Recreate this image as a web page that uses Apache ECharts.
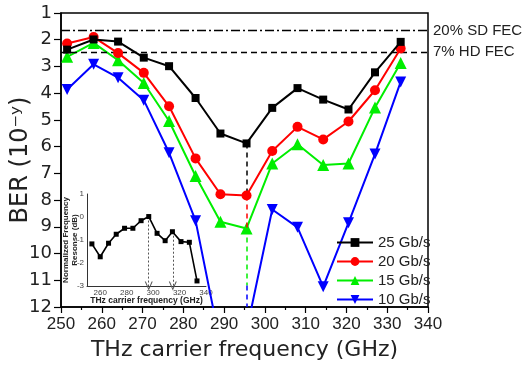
<!DOCTYPE html>
<html>
<head>
<meta charset="utf-8">
<script src="https://cdn.jsdelivr.net/npm/echarts@6/dist/echarts.min.js"></script>
<style>
html, body { margin: 0; padding: 0; background: #fff; }
#main { width: 523px; height: 372px; }
</style>
</head>
<body>
<div id="main"></div>
<script>
// carrier frequencies (GHz) and BER exponents
var freq = [251.5, 258, 264, 270.3, 276.5, 283, 289.1, 295.5, 301.8, 308, 314.3, 320.5, 327, 333.3];
var ber25 = [2.37, 1.99, 2.07, 2.67, 2.99, 4.18, 5.51, 5.88, 4.55, 3.81, 4.24, 4.61, 3.22, 2.08];
var ber20 = [2.14, 1.90, 2.50, 3.24, 4.49, 6.44, 7.78, 7.83, 6.16, 5.26, 5.73, 5.06, 3.89, 2.33];
var ber15 = [2.64, 2.12, 2.77, 3.62, 5.04, 7.10, 8.81, 9.06, 6.63, 5.91, 6.69, 6.63, 4.54, 2.87];
var ber10 = [3.86, 2.92, 3.42, 4.26, 6.23, 8.77, 13.4, 12.9, 8.35, 9.02, 11.24, 8.85, 6.28, 3.58];
var seriesNames = ['25 Gb/s', '20 Gb/s', '15 Gb/s', '10 Gb/s'];

// FEC thresholds
var sdFec = 1.65;
var hdFec = 2.45;

// vertical marker at 295.5 GHz, split by colour
var markFreq = 295.5;
var markStops = [5.88, 7.83, 9.06, 11.2, 12];

// inset: normalized frequency response
var insetFreq = [253.7, 260, 266.3, 272.1, 278.4, 284.7, 290.9, 296.7, 303, 309.1, 314.6, 321.1, 327.4, 333.2];
var insetResp = [-1.17, -1.73, -1.14, -0.75, -0.49, -0.49, -0.16, 0.02, -0.71, -1.03, -0.64, -1.07, -1.10, -2.78];
var arrowFreq = [296.7, 314.9];
var arrowTop = [0.02, -0.64];

function zip(xs, ys) {
    var out = [];
    for (var i = 0; i < xs.length; i++) out.push([xs[i], ys[i]]);
    return out;
}

var myChart = echarts.init(document.getElementById('main'));
var font = 'Arial, "Liberation Sans", sans-serif';
var wide = '"DejaVu Sans", sans-serif';

var colors = ['#000000', '#ff0000', '#00ee00', '#0000ff'];
var symbols = ['rect', 'circle', 'triangle', 'path://M0,0L10,0L5,9Z'];
var sizes = [8, 10, 12, 11];
var datas = [ber25, ber20, ber15, ber10];

var series = [];
for (var s = 0; s < 4; s++) {
    var ml = {
        silent: true,
        symbol: 'none',
        label: {show: false},
        lineStyle: {color: colors[s], type: [5, 4], width: 1.5},
        data: [[{coord: [markFreq, markStops[s]]}, {coord: [markFreq, markStops[s + 1]]}]]
    };
    if (s == 0) {
        // FEC limits
        ml.data.push([{coord: [250, sdFec]}, {coord: [340, sdFec], label: {show: true, position: 'end', formatter: '20% SD FEC', color: '#222', fontSize: 15, fontFamily: font}, lineStyle: {type: [9, 3, 2, 3], color: '#000', width: 1.3}}]);
        ml.data.push([{coord: [250, hdFec]}, {coord: [340, hdFec], label: {show: true, position: 'end', formatter: '7% HD FEC', color: '#222', fontSize: 15, fontFamily: font}, lineStyle: {type: [6, 4], color: '#000', width: 1.3}}]);
    }
    series.push({
        name: seriesNames[s],
        type: 'line',
        xAxisIndex: 0,
        yAxisIndex: 0,
        data: zip(freq, datas[s]),
        symbol: symbols[s],
        symbolSize: sizes[s],
        color: colors[s],
        lineStyle: {width: 2, color: colors[s]},
        itemStyle: {color: colors[s]},
        clip: true,
        z: 4 - s + 2,
        markLine: ml
    });
}

var arrowLines = [];
for (var a = 0; a < arrowFreq.length; a++) {
    arrowLines.push([{coord: [arrowFreq[a], arrowTop[a]]}, {coord: [arrowFreq[a], -3]}]);
}

series.push({
    name: 'inset',
    type: 'line',
    xAxisIndex: 1,
    yAxisIndex: 1,
    data: zip(insetFreq, insetResp),
    symbol: 'rect',
    symbolSize: 5,
    lineStyle: {width: 1.6, color: '#000'},
    itemStyle: {color: '#000'},
    z: 10,
    markLine: {
        silent: true,
        symbol: ['none', 'path://M5,0L10,10L8.6,10L5,2.6L1.4,10L0,10Z'],
        symbolSize: [8, 9],
        label: {show: false},
        lineStyle: {color: '#555', type: [2, 2], width: 1},
        data: arrowLines
    }
});

option = {
    animation: false,
    backgroundColor: '#fff',
    textStyle: {fontFamily: font},
    legend: {
        data: seriesNames,
        left: 331,
        top: 230,
        orient: 'vertical',
        itemWidth: 36,
        itemHeight: 11,
        itemGap: 4,
        textStyle: {fontSize: 15, color: '#222', fontFamily: font}
    },
    grid: [
        {left: 61, right: 95, top: 13, bottom: 65, outerBoundsMode: 'none', containLabel: false,
         show: true, borderColor: '#000', borderWidth: 1.5, backgroundColor: 'transparent'},
        {left: 87, top: 194, width: 119, height: 92, outerBoundsMode: 'none', containLabel: false, show: false}
    ],
    xAxis: [
        {
            type: 'value', gridIndex: 0, min: 250, max: 340, interval: 10,
            name: 'THz carrier frequency (GHz)', nameLocation: 'middle', nameGap: 32, nameMoveOverlap: false,
            nameTextStyle: {fontSize: 22, color: '#222', fontFamily: wide},
            axisLine: {lineStyle: {color: '#000', width: 1.5}},
            axisTick: {inside: false, length: 6, lineStyle: {color: '#000', width: 1.2}},
            minorTick: {show: true, splitNumber: 2, length: 3, lineStyle: {color: '#000', width: 1.2}},
            axisLabel: {fontSize: 17, color: '#222', margin: 9, fontFamily: font},
            splitLine: {show: false}
        },
        {
            type: 'value', gridIndex: 1, min: 250, max: 340, interval: 10,
            name: 'THz carrier frequency (GHz)', nameLocation: 'middle', nameGap: 10, nameMoveOverlap: false,
            nameTextStyle: {fontSize: 8.5, fontWeight: 'bold', color: '#222', fontFamily: font},
            axisLine: {onZero: false, lineStyle: {color: '#333', width: 1}},
            axisTick: {show: false},
            axisLabel: {fontSize: 8, color: '#444', margin: 3, fontFamily: font,
                formatter: function (v) { return (v % 20 == 0 && v > 250) ? v : ''; }},
            splitLine: {show: false}
        }
    ],
    yAxis: [
        {
            type: 'value', gridIndex: 0, min: 1, max: 12, interval: 1, inverse: true,
            name: 'BER (10\u207B\u02B8)', nameLocation: 'middle', nameGap: 28, nameMoveOverlap: false,
            nameTextStyle: {fontSize: 24, color: '#222', fontFamily: wide},
            axisLine: {lineStyle: {color: '#000', width: 1.5}},
            axisTick: {inside: false, length: 7, lineStyle: {color: '#000', width: 1.2}},
            axisLabel: {fontSize: 18, color: '#222', margin: 9, fontFamily: wide},
            splitLine: {show: false}
        },
        {
            type: 'value', gridIndex: 1, min: -3, max: 1, interval: 1,
            name: 'Normalized Frequency\nResonse (dB)', nameLocation: 'middle', nameGap: 8, nameMoveOverlap: false,
            nameTextStyle: {fontSize: 8, fontWeight: 'bold', color: '#222', lineHeight: 9, fontFamily: font},
            axisLine: {show: true, onZero: false, lineStyle: {color: '#333', width: 1}},
            axisTick: {show: false},
            axisLabel: {fontSize: 8, color: '#444', margin: 3, fontFamily: font},
            splitLine: {show: false}
        }
    ],
    series: series
};
myChart.setOption(option);
</script>
</body>
</html>
